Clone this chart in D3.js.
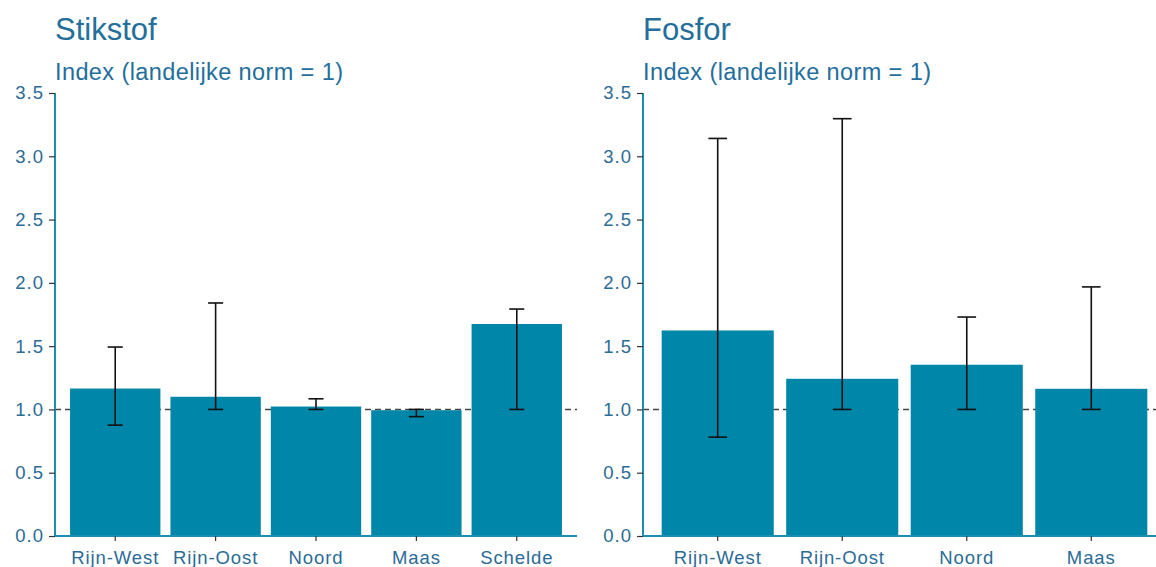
<!DOCTYPE html>
<html>
<head>
<meta charset="utf-8">
<script src="https://cdn.jsdelivr.net/npm/d3@7"></script>
<style>
  html, body { margin: 0; padding: 0; background: #ffffff; }
  svg { display: block; }
  text { font-family: "Liberation Sans", Arial, sans-serif; }
</style>
</head>
<body>
<svg id="chart" width="1156" height="567"></svg>
<script>
// ---- data ----
const panelTitles = ["Stikstof", "Fosfor"];
const subtitle = "Index (landelijke norm = 1)";

const nCategories = ["Rijn-West", "Rijn-Oost", "Noord", "Maas", "Schelde"];
const nValues = [1.165, 1.10, 1.023, 0.994, 1.675];
const nLower  = [0.876, 1.00, 1.00, 0.943, 1.00];
const nUpper  = [1.493, 1.841, 1.084, 1.00, 1.793];

const pCategories = ["Rijn-West", "Rijn-Oost", "Noord", "Maas"];
const pValues = [1.624, 1.242, 1.353, 1.163];
const pLower  = [0.781, 1.00, 1.00, 1.00];
const pUpper  = [3.141, 3.297, 1.730, 1.968];

const yTicks = [0, 0.5, 1, 1.5, 2, 2.5, 3, 3.5];
const normValue = 1;

// ---- styles ----
const barColor = "#0086a8";
const axisColor = "#1b8fb2";
const textColor = "#2b6b96";
const titleColor = "#236e9b";

const svg = d3.select("#chart");
const y = d3.scaleLinear().domain([0, 3.5]).range([536, 93]);

function drawPanel(cfg) {
  const g = svg.append("g");
  const x = d3.scaleBand()
    .domain(cfg.categories)
    .range([cfg.x0, cfg.x1])
    .paddingInner(0.1)
    .paddingOuter(0.15);

  // titles
  g.append("text").attr("x", cfg.x0).attr("y", 40)
    .attr("font-size", 31).attr("fill", titleColor).text(cfg.title);
  g.append("text").attr("x", cfg.x0).attr("y", 80)
    .attr("font-size", 23.5).attr("letter-spacing", 0.4).attr("fill", titleColor).text(subtitle);

  // reference dashed line
  g.append("line")
    .attr("x1", cfg.x0).attr("x2", cfg.x1)
    .attr("y1", y(normValue)).attr("y2", y(normValue))
    .attr("stroke", "#444").attr("stroke-width", 1.4)
    .attr("stroke-dasharray", "6,4");

  const data = cfg.categories.map((c, i) => ({c, v: cfg.values[i], lo: cfg.lower[i], hi: cfg.upper[i]}));

  // bars
  g.selectAll("rect.bar").data(data).join("rect")
    .attr("class", "bar")
    .attr("x", d => x(d.c))
    .attr("width", x.bandwidth())
    .attr("y", d => y(d.v))
    .attr("height", d => y(0) - y(d.v))
    .attr("fill", barColor);

  // error bars
  const cap = x.step() * 0.075;
  const eb = g.selectAll("g.eb").data(data).join("g").attr("class", "eb")
    .attr("stroke", "#111").attr("stroke-width", 1.6);
  eb.append("line")
    .attr("x1", d => x(d.c) + x.bandwidth() / 2).attr("x2", d => x(d.c) + x.bandwidth() / 2)
    .attr("y1", d => y(d.lo)).attr("y2", d => y(d.hi));
  eb.append("line")
    .attr("x1", d => x(d.c) + x.bandwidth() / 2 - cap).attr("x2", d => x(d.c) + x.bandwidth() / 2 + cap)
    .attr("y1", d => y(d.lo)).attr("y2", d => y(d.lo));
  eb.append("line")
    .attr("x1", d => x(d.c) + x.bandwidth() / 2 - cap).attr("x2", d => x(d.c) + x.bandwidth() / 2 + cap)
    .attr("y1", d => y(d.hi)).attr("y2", d => y(d.hi));

  // y axis
  const yAxis = g.append("g").attr("transform", `translate(${cfg.x0},0)`)
    .call(d3.axisLeft(y).tickValues(yTicks).tickFormat(d3.format(".1f")).tickSize(6).tickPadding(5));
  yAxis.select(".domain").attr("stroke", axisColor).attr("stroke-width", 2)
    .attr("d", `M0,${y(0)}V${y(3.5)}`);
  yAxis.selectAll(".tick line").attr("stroke", "#333").attr("stroke-width", 1.2);
  yAxis.selectAll(".tick text").attr("fill", textColor).attr("font-size", 18.5)
    .attr("letter-spacing", 1)
    .attr("font-family", "Liberation Sans, Arial, sans-serif");

  // x axis
  const xAxis = g.append("g").attr("transform", `translate(0,${y(0)})`)
    .call(d3.axisBottom(x).tickSize(5).tickPadding(10).tickSizeOuter(0));
  xAxis.select(".domain").attr("stroke", axisColor).attr("stroke-width", 2)
    .attr("d", `M${cfg.x0},0H${cfg.x1}`);
  xAxis.selectAll(".tick line").attr("stroke", "#333").attr("stroke-width", 1.2);
  xAxis.selectAll(".tick text").attr("fill", textColor).attr("font-size", 18.5)
    .attr("letter-spacing", 0.9)
    .attr("font-family", "Liberation Sans, Arial, sans-serif");
}

drawPanel({title: panelTitles[0], categories: nCategories, values: nValues, lower: nLower, upper: nUpper, x0: 55, x1: 577});
drawPanel({title: panelTitles[1], categories: pCategories, values: pValues, lower: pLower, upper: pUpper, x0: 643, x1: 1166});
</script>
</body>
</html>
